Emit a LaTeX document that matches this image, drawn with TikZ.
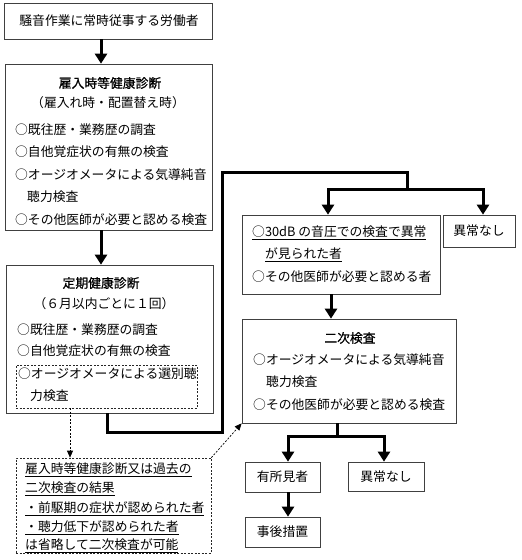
\documentclass[tikz,border=0pt]{standalone}
\usepackage{fontspec}
\setmainfont{Noto Sans CJK JP}
\newfontfamily\titlefont{Noto Sans CJK JP}[FakeBold=0.8]
\usetikzlibrary{arrows.meta}
\tikzset{
  box/.style={draw=black!75, line width=0.7pt, inner sep=0pt},
  txt/.style={inner sep=0pt, anchor=west, font=\fontsize{12.8}{15}\selectfont},
  ctxt/.style={inner sep=0pt, font=\fontsize{12.8}{15}\selectfont},
  ttl/.style={inner sep=0pt, font=\fontsize{12.8}{15}\selectfont\titlefont},
  flow/.style={line width=3pt, -{Triangle[width=12pt,length=10pt]}},
  dsh/.style={draw=black!85, line width=0.7pt, dash pattern=on 2pt off 1.5pt, inner sep=0pt},
  darr/.style={black, line width=0.7pt, dash pattern=on 2pt off 1.5pt, -{Triangle[width=6pt,length=7pt]}},
}
\begin{document}
\begin{tikzpicture}[x=1pt,y=-1pt]
\useasboundingbox (0,0) rectangle (522,560);
\fill[white] (0,0) rectangle (522,560);

% boxes
\node[box, minimum width=208, minimum height=36] (b1) at (108,21) {};
\node[box, minimum width=207, minimum height=166] (b2) at (108.5,147) {};
\node[box, minimum width=207, minimum height=148] (b3) at (109.5,339) {};
\node[dsh, minimum width=181, minimum height=43] (dbi) at (106.5,386.5) {};
\node[dsh, minimum width=195, minimum height=95] (db) at (113.5,505.5) {};
\node[box, minimum width=198, minimum height=79] (b4) at (341,254.5) {};
\node[box, minimum width=72, minimum height=32] (b5) at (479,231) {};
\node[box, minimum width=214, minimum height=104] (b7) at (349,371) {};
\node[box, minimum width=75, minimum height=30] (b8) at (282.5,477) {};
\node[box, minimum width=76, minimum height=29] (b9) at (386,476.5) {};
\node[box, minimum width=75, minimum height=30] (b10) at (282.5,532) {};

% texts
\node[ctxt] (t1) at (109,21) {騒音作業に常時従事する労働者};

\node[ttl] (t2a) at (110,83) {雇入時等健康診断};
\node[ctxt] (t2b) at (108,103) {（雇入れ時・配置替え時）};
\node[txt] (t2c) at (15,130) {○既往歴・業務歴の調査};
\node[txt] (t2d) at (15,152) {○自他覚症状の有無の検査};
\node[txt] (t2e) at (15,175) {○オージオメータによる気導純音};
\node[txt] (t2f) at (27,197) {聴力検査};
\node[txt] (t2g) at (15,220) {○その他医師が必要と認める検査};

\node[ttl] (t3a) at (101,283) {定期健康診断};
\node[ctxt] (t3b) at (104,304) {（６月以内ごとに１回）};
\node[txt] (t3c) at (17,330) {○既往歴・業務歴の調査};
\node[txt] (t3d) at (17,351) {○自他覚症状の有無の検査};
\node[txt] (t3e) at (18,374) {○オージオメータによる選別聴};
\node[txt] (t3f) at (30,396) {力検査};

\node[txt] (t6a) at (25,470) {\underline{雇入時等健康診断又は過去の}};
\node[txt] (t6b) at (25,489) {\underline{二次検査の結果}};
\node[txt] (t6c) at (25,509) {\underline{・前駆期の症状が認められた者}};
\node[txt] (t6d) at (25,528) {\underline{・聴力低下が認められた者}};
\node[txt] (t6e) at (25,546) {\underline{は省略して二次検査が可能}};

\node[txt] (t4a) at (252,233) {\underline{○30dB の音圧での検査で異常}};
\node[txt] (t4b) at (265,255) {\underline{が見られた者}};
\node[txt] (t4c) at (252,277) {○その他医師が必要と認める者};

\node[ctxt] (t5) at (479,231) {異常なし};

\node[ttl] (t7a) at (350,338) {二次検査};
\node[txt] (t7b) at (253,360) {○オージオメータによる気導純音};
\node[txt] (t7c) at (266,382) {聴力検査};
\node[txt] (t7d) at (253,405) {○その他医師が必要と認める検査};

\node[ctxt] (t8) at (282.5,477) {有所見者};
\node[ctxt] (t9) at (386,476.5) {異常なし};
\node[ctxt] (t10) at (282.5,532) {事後措置};

% connector coordinates
\coordinate (c1) at (101,0);
\coordinate (j1) at (107,432);
\coordinate (j2) at (222,432);
\coordinate (j3) at (222,172);
\coordinate (j4) at (407,172);
\coordinate (j5) at (407,189);
\coordinate (jL) at (328,189);
\coordinate (jR) at (483,189);
\coordinate (c4) at (331,0);
\coordinate (k) at (337,436);
\coordinate (kL) at (288,436);
\coordinate (kR) at (384,436);
\coordinate (da) at (70,0);

% thick flow connectors
\draw[flow] (b1.south -| c1) -- (b2.north -| c1);
\draw[flow] (b2.south -| c1) -- (b3.north -| c1);
\draw[flow] (b3.south -| j1) -- (j1) -- (j2) -- (j3) -- (j4) -- (j5) -- (jL) -- (b4.north -| jL);
\draw[flow] (j5) -- (jR) -- (b5.north -| jR);
\draw[flow] (b4.south -| c4) -- (b7.north -| c4);
\draw[flow] (b7.south -| k) -- (k) -- (kL) -- (b8.north -| kL);
\draw[flow] (k) -- (kR) -- (b9.north -| kR);
\draw[flow] (b8.south -| kL) -- (b10.north -| kL);

% dashed connectors
\draw[darr] (dbi.south -| da) -- (db.north -| da);
\draw[darr] (db.north east) -- (b7.south west);
\end{tikzpicture}
\end{document}
